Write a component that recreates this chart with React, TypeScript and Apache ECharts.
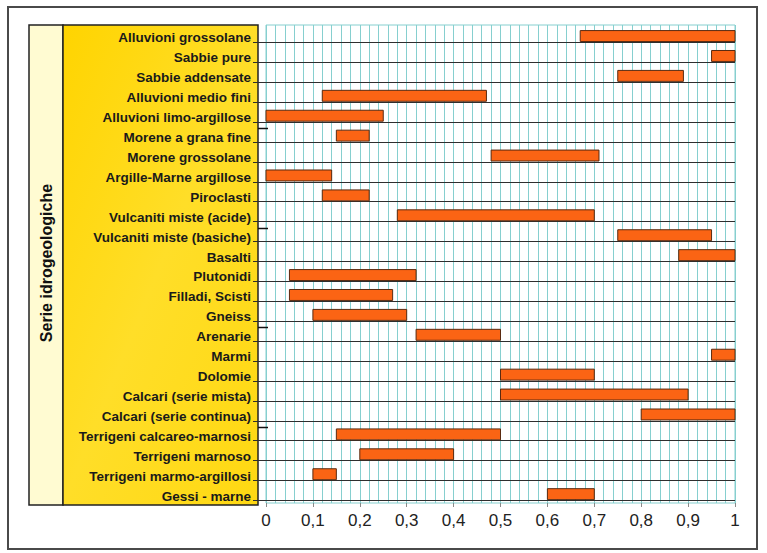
import React, { useEffect, useRef } from "react";
import * as echarts from "echarts";

const categories = [
  "Alluvioni grossolane",
  "Sabbie pure",
  "Sabbie addensate",
  "Alluvioni medio fini",
  "Alluvioni limo-argillose",
  "Morene a grana fine",
  "Morene grossolane",
  "Argille-Marne argillose",
  "Piroclasti",
  "Vulcaniti miste (acide)",
  "Vulcaniti miste (basiche)",
  "Basalti",
  "Plutonidi",
  "Filladi, Scisti",
  "Gneiss",
  "Arenarie",
  "Marmi",
  "Dolomie",
  "Calcari (serie mista)",
  "Calcari (serie continua)",
  "Terrigeni calcareo-marnosi",
  "Terrigeni marnoso",
  "Terrigeni marmo-argillosi",
  "Gessi - marne",
];

const rangeMin = [
  0.67, 0.95, 0.75, 0.12, 0.0, 0.15, 0.48, 0.0, 0.12, 0.28, 0.75, 0.88,
  0.05, 0.05, 0.1, 0.32, 0.95, 0.5, 0.5, 0.8, 0.15, 0.2, 0.1, 0.6,
];

const rangeMax = [
  1.0, 1.0, 0.89, 0.47, 0.25, 0.22, 0.71, 0.14, 0.22, 0.7, 0.95, 1.0,
  0.32, 0.27, 0.3, 0.5, 1.0, 0.7, 0.9, 1.0, 0.5, 0.4, 0.15, 0.7,
];

const groupStarts = [
  "Morene a grana fine",
  "Vulcaniti miste (basiche)",
  "Arenarie",
  "Terrigeni calcareo-marnosi",
];

const xTicks = [0, 0.1, 0.2, 0.3, 0.4, 0.5, 0.6, 0.7, 0.8, 0.9, 1];

const axisTitle = "Serie idrogeologiche";

export default function App() {
  const ref = useRef<HTMLDivElement>(null);

  useEffect(() => {
    if (!ref.current) return;
    const chart = echarts.init(ref.current, null, { renderer: "svg" });

    const data = categories.map((c, i) => ({
      name: c,
      value: [i, rangeMin[i], rangeMax[i], groupStarts.includes(c) ? 1 : 0],
    }));

    const option: any = {
      animation: false,
      backgroundColor: "#ffffff",
      grid: { left: 266, top: 25, width: 469, height: 478, containLabel: false },
      xAxis: {
        type: "value",
        min: xTicks[0],
        max: xTicks[xTicks.length - 1],
        interval: 0.1,
        axisLine: { show: false },
        axisTick: { show: true, length: 4, lineStyle: { color: "#8a8a8a", width: 1 } },
        minorTick: { show: false, splitNumber: 5 },
        splitLine: { show: true, lineStyle: { color: "#86cfcf", width: 1 } },
        minorSplitLine: { show: true, lineStyle: { color: "#86cfcf", width: 1 } },
        axisLabel: {
          margin: 9,
          fontSize: 17,
          fontFamily: "Liberation Sans, Arial, sans-serif",
          color: "#222",
          formatter: (v: number) => String(Math.round(v * 10) / 10).replace(".", ","),
        },
      },
      yAxis: {
        type: "category",
        inverse: true,
        data: categories,
        axisLine: { show: false },
        axisTick: { show: false },
        splitLine: { show: false },
        axisLabel: { show: false },
      },
      graphic: [
        {
          type: "rect",
          z: -1,
          shape: { x: 8, y: 7, width: 749, height: 542 },
          style: { fill: "none", stroke: "#4a4a4a", lineWidth: 2 },
        },
        {
          type: "rect",
          z: -1,
          shape: { x: 29, y: 25, width: 34, height: 480 },
          style: { fill: "#fffbd2", stroke: "#222", lineWidth: 1.5 },
        },
        {
          type: "rect",
          z: -1,
          shape: { x: 63, y: 25, width: 195, height: 480 },
          style: {
            fill: new echarts.graphic.LinearGradient(0, 0, 1, 1, [
              { offset: 0, color: "#ffd400" },
              { offset: 0.5, color: "#ffde28" },
              { offset: 1, color: "#ffd812" },
            ]),
            stroke: "#222",
            lineWidth: 1.5,
          },
        },
        {
          type: "rect",
          z: 0,
          shape: { x: 266, y: 25, width: 469, height: 478 },
          style: { fill: "none", stroke: "#86cfcf", lineWidth: 1 },
        },
        {
          type: "text",
          x: 46,
          y: 263,
          rotation: Math.PI / 2,
          style: {
            text: axisTitle,
            fill: "#111",
            font: "bold 16px 'Liberation Sans', Arial, sans-serif",
            align: "center",
            verticalAlign: "middle",
          },
        },
      ],
      series: [
        {
          type: "custom",
          clip: false,
          data,
          encode: { x: [1, 2], y: 0 },
          renderItem: (params: any, api: any) => {
            const yi = api.value(0);
            const s = api.value(1);
            const e = api.value(2);
            const brk = api.value(3);
            const p0 = api.coord([s, yi]);
            const p1 = api.coord([e, yi]);
            const band = api.size([0, 1])[1];
            const yc = p0[1];
            const xl = api.coord([0, yi])[0];
            const xr = api.coord([1, yi])[0];
            const lineY = Math.round(yc + band * 0.36) + 0.5;
            const children: any[] = [
              {
                type: "line",
                shape: { x1: xl - 13, y1: lineY, x2: xr, y2: lineY },
                style: { stroke: "#2e2e2e", lineWidth: 1 },
              },
              {
                type: "rect",
                shape: { x: p0[0], y: yc - band * 0.22, width: p1[0] - p0[0], height: band * 0.55 },
                style: { fill: "#fb6414", stroke: "#5a2a10", lineWidth: 1 },
              },
              {
                type: "text",
                x: xl - 15,
                y: yc + 3,
                style: {
                  text: categories[yi],
                  fill: "#1a1a1a",
                  font: "bold 13.5px 'Liberation Sans', Arial, sans-serif",
                  align: "right",
                  verticalAlign: "middle",
                },
              },
            ];
            if (brk) {
              const by = Math.round(yc - band / 2 + 3.5) + 0.5;
              children.push({
                type: "line",
                shape: { x1: xl - 8, y1: by, x2: xl + 2, y2: by },
                style: { stroke: "#111", lineWidth: 1.5 },
              });
            }
            return { type: "group", children };
          },
        },
      ],
    };

    chart.setOption(option);
    return () => chart.dispose();
  }, []);

  return (
    <div
      ref={ref}
      style={{ position: "fixed", left: 0, top: 0, width: 767, height: 553 }}
    />
  );
}
